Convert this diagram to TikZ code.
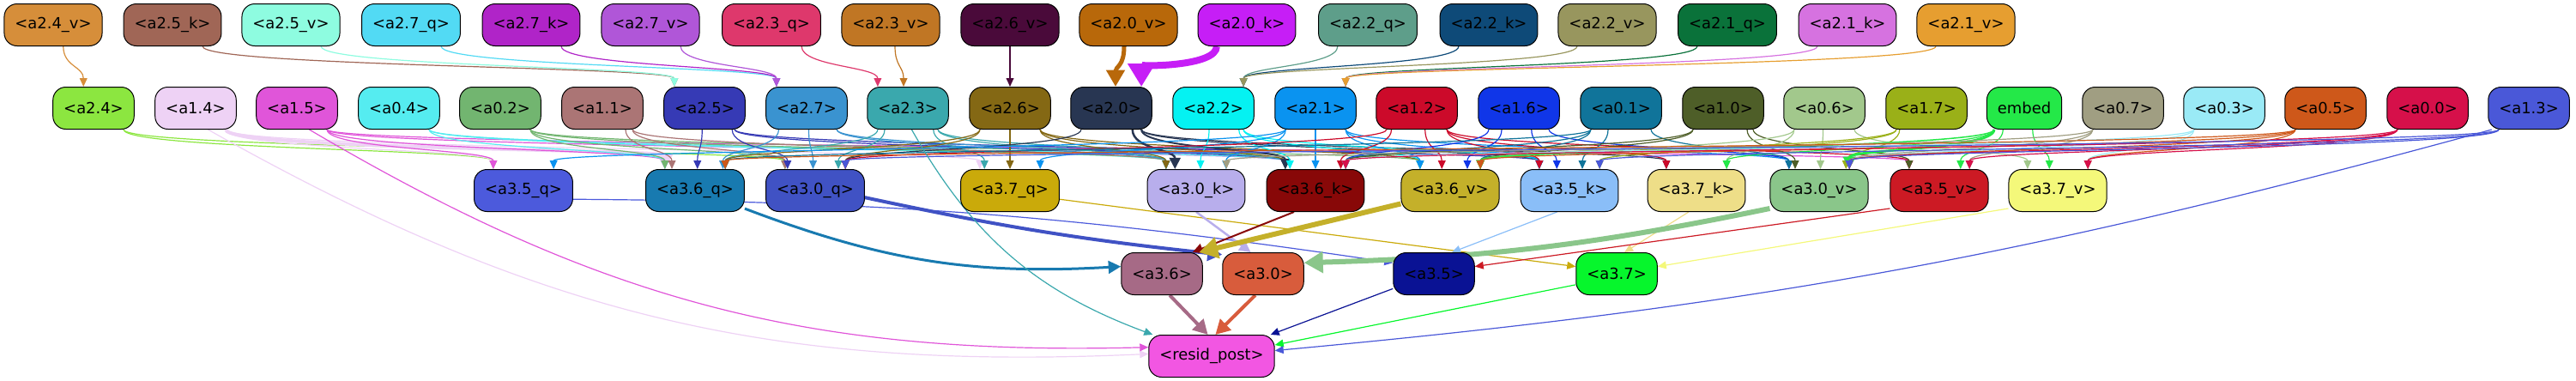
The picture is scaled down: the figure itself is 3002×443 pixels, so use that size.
\documentclass[tikz,border=0pt]{standalone}
\usepackage{fontspec}
\setmainfont{DejaVu Sans}
\usetikzlibrary{arrows.meta,calc,backgrounds}

\definecolor{a24v}{HTML}{D68E3A}\definecolor{a25k}{HTML}{A06656}
\definecolor{a25v}{HTML}{8EFCE0}\definecolor{a27q}{HTML}{52DAF4}
\definecolor{a27k}{HTML}{B024C8}\definecolor{a27v}{HTML}{B056D8}
\definecolor{a23q}{HTML}{DE386C}\definecolor{a23v}{HTML}{C07624}
\definecolor{a26v}{HTML}{4A0A3A}\definecolor{a20v}{HTML}{B8680A}
\definecolor{a20k}{HTML}{C61EF6}\definecolor{a22q}{HTML}{5E9E8A}
\definecolor{a22k}{HTML}{0E4A78}\definecolor{a22v}{HTML}{98965E}
\definecolor{a21q}{HTML}{0A723A}\definecolor{a21k}{HTML}{D672E0}
\definecolor{a21v}{HTML}{E69E30}
\definecolor{a24}{HTML}{8CE640}\definecolor{a14}{HTML}{EED2F5}
\definecolor{a15}{HTML}{E055D9}\definecolor{a04}{HTML}{55ECF0}
\definecolor{a02}{HTML}{72B570}\definecolor{a11}{HTML}{AB7575}
\definecolor{a25}{HTML}{363AB5}\definecolor{a27}{HTML}{3A93D0}
\definecolor{a23}{HTML}{3AA8AD}\definecolor{a26}{HTML}{846814}
\definecolor{a20}{HTML}{283652}\definecolor{a22}{HTML}{05F2F2}
\definecolor{a21}{HTML}{0A93F0}\definecolor{a12}{HTML}{CC0A2A}
\definecolor{a16}{HTML}{1036E8}\definecolor{a01}{HTML}{10749A}
\definecolor{a10}{HTML}{4E5E28}\definecolor{a06}{HTML}{A2C88C}
\definecolor{a17}{HTML}{9AB018}\definecolor{embed}{HTML}{24E848}
\definecolor{a07}{HTML}{A09E82}\definecolor{a03}{HTML}{9AEAF6}
\definecolor{a05}{HTML}{CE581A}\definecolor{a00}{HTML}{D6104A}
\definecolor{a13}{HTML}{4A58D8}
\definecolor{a35q}{HTML}{4C5ADC}\definecolor{a36q}{HTML}{187AB0}
\definecolor{a30q}{HTML}{4052C4}\definecolor{a37q}{HTML}{CAAA0A}
\definecolor{a30k}{HTML}{B8AEEC}\definecolor{a36k}{HTML}{880808}
\definecolor{a36v}{HTML}{C4B02A}\definecolor{a35k}{HTML}{8ABEF8}
\definecolor{a37k}{HTML}{EEDE88}\definecolor{a30v}{HTML}{8AC68A}
\definecolor{a35v}{HTML}{CC1A24}\definecolor{a37v}{HTML}{F4F87A}
\definecolor{a36}{HTML}{A66A86}\definecolor{a30}{HTML}{D85C3C}
\definecolor{a35}{HTML}{0A1294}\definecolor{a37}{HTML}{06F62C}
\definecolor{resid}{HTML}{F256E2}

\begin{document}
\begin{tikzpicture}[x=0.2mm,y=-0.2mm,
  box/.style={draw=black,line width=0.2mm,rounded corners=3mm,minimum height=9.8mm,
    inner xsep=2.5mm,font=\fontsize{10.2}{12}\selectfont},
  wire/.style={line width=#1*0.2mm,-{Triangle[length=1.4mm 2.5,width=1mm 3.2]}}]
\useasboundingbox (0,0) rectangle (3002,443);

\foreach \n/\x/\l in {a24v/62/{<a2.4\_v>},a25k/201/{<a2.5\_k>},a25v/339/{<a2.5\_v>},
  a27q/479/{<a2.7\_q>},a27k/619/{<a2.7\_k>},a27v/758/{<a2.7\_v>},a23q/899/{<a2.3\_q>},
  a23v/1038/{<a2.3\_v>},a26v/1177/{<a2.6\_v>},a20v/1315/{<a2.0\_v>},a20k/1453/{<a2.0\_k>},
  a22q/1594/{<a2.2\_q>},a22k/1735/{<a2.2\_k>},a22v/1873/{<a2.2\_v>},a21q/2013/{<a2.1\_q>},
  a21k/2153/{<a2.1\_k>},a21v/2291/{<a2.1\_v>}}
  \node[box,fill=\n] (\n) at (\x,29) {\l};

\foreach \n/\x/\l in {a24/109/{<a2.4>},a14/228/{<a1.4>},a15/346/{<a1.5>},a04/465/{<a0.4>},
  a02/583/{<a0.2>},a11/702/{<a1.1>},a25/821/{<a2.5>},a27/940/{<a2.7>},a23/1058/{<a2.3>},
  a26/1177/{<a2.6>},a20/1295/{<a2.0>},a22/1414/{<a2.2>},a21/1533/{<a2.1>},a12/1651/{<a1.2>},
  a16/1770/{<a1.6>},a01/1889/{<a0.1>},a10/2008/{<a1.0>},a06/2126/{<a0.6>},a17/2245/{<a1.7>},
  embed/2359/{embed},a07/2474/{<a0.7>},a03/2592/{<a0.3>},a05/2710/{<a0.5>},a00/2829/{<a0.0>},
  a13/2947/{<a1.3>}}
  \node[box,fill=\n] (\n) at (\x,126) {\l};

\foreach \n/\x/\l in {a35q/610/{<a3.5\_q>},a36q/810/{<a3.6\_q>},a30q/950/{<a3.0\_q>},
  a37q/1177/{<a3.7\_q>},a30k/1394/{<a3.0\_k>},a36k/1533/{<a3.6\_k>},a36v/1690/{<a3.6\_v>},
  a35k/1829/{<a3.5\_k>},a37k/1977/{<a3.7\_k>},a30v/2120/{<a3.0\_v>},a35v/2260/{<a3.5\_v>},
  a37v/2398/{<a3.7\_v>}}
  \node[box,fill=\n] (\n) at (\x,222) {\l};

\foreach \n/\x/\l in {a36/1354/{<a3.6>},a30/1472/{<a3.0>},a35/1671/{<a3.5>},a37/1884/{<a3.7>}}
  \node[box,fill=\n] (\n) at (\x,319) {\l};
\node[box,fill=resid] (resid) at (1412,415) {<resid\_post>};

\begin{pgfonlayer}{background}
\foreach \s/\t/\w in {a24v/a24/1.2,a25k/a25/1.2,a25v/a25/1.2,a27q/a27/1.2,a27k/a27/1.2,
  a27v/a27/1.2,a23q/a23/1.2,a23v/a23/1.2,a26v/a26/1.2,a20v/a20/5,a20k/a20/8,a22q/a22/1.2,
  a22k/a22/1.2,a22v/a22/1.2,a21q/a21/1.2,a21k/a21/1.2,a21v/a21/1.2,
  a24/a35q/1.2,a24/a30q/1.2,a14/a35q/1.2,a14/a36q/4,a14/a37q/1.2,
  a15/a35q/1.2,a15/a36q/1.2,a15/a36k/1.2,a15/a35v/1.2,a04/a36q/1.2,a04/a30k/1.2,a04/a36k/1.2,
  a02/a36q/1.2,a02/a30q/1.2,a02/a30k/1.2,a02/a36v/1.2,a11/a36q/1.2,a11/a30q/1.2,a11/a30k/1.2,
  a25/a36q/1.2,a25/a30q/1.2,a25/a36k/1.2,a25/a35k/1.2,a27/a36q/1.2,a27/a30q/1.2,a27/a30k/1.2,
  a27/a36k/1.2,a23/a36q/1.2,a23/a30q/1.2,a23/a37q/1.2,a23/a30k/1.2,a23/a36k/1.2,
  a26/a36q/1.2,a26/a30q/1.2,a26/a37q/1.2,a26/a30k/1.2,a26/a36k/1.2,a26/a36v/1.2,
  a20/a30q/1.2,a20/a30k/2.5,a20/a36k/2,a20/a37k/1.2,a20/a35k/1.2,
  a22/a30k/1.2,a22/a36k/1.2,a22/a36v/1.2,a22/a35k/1.2,
  a21/a35q/1.2,a21/a37q/1.2,a21/a30k/1.2,a21/a36k/1.2,a21/a36v/1.2,a21/a35k/1.2,a21/a30v/1.2,
  a12/a30q/1.2,a12/a36k/1.2,a12/a36v/1.2,a12/a35k/1.2,a12/a37k/1.2,a12/a35v/1.2,
  a16/a36k/1.2,a16/a36v/1.2,a16/a35k/1.2,a16/a30v/1.2,
  a01/a36q/1.2,a01/a36k/1.2,a01/a36v/1.2,a01/a35k/1.2,a01/a30v/1.2,
  a10/a36k/1.2,a10/a36v/1.2,a10/a30v/1.2,a10/a35v/1.2,
  a06/a36v/1.2,a06/a37k/1.2,a06/a30v/1.2,a06/a37v/1.2,a17/a36v/1.2,a17/a35k/1.2,a17/a30v/1.2,
  embed/a36v/1.5,embed/a30v/3,embed/a35v/1.2,embed/a37v/1.2,embed/a37k/1.2,
  a07/a30k/1.2,a07/a30v/1.2,a07/a35v/1.2,a03/a36k/1.2,a03/a30v/1.2,a03/a37v/1.2,
  a05/a36q/1.2,a05/a36v/1.2,a05/a30v/1.2,a05/a37v/1.2,
  a00/a36k/1.2,a00/a30v/1.2,a00/a35v/1.2,a00/a37v/1.2,a13/a30q/1.2,a13/a35k/1.2,a13/a30v/1.2}
  \draw[wire=\w,draw=\s] let \p1=(\s.south), \p2=(\t.north),
    \n1={max(-20,min(20,0.25*(\x2-\x1)))}, \n2={max(-20,min(20,0.25*(\x1-\x2)))},
    \n3={\y1-\y2} in
    ({\x1+\n1*1pt},\y1) .. controls ({\x1+\n1*1pt},{\y1-0.5*\n3*1pt})
    and ({\x2+\n2*1pt},{\y2+0.5*\n3*1pt}) .. ({\x2+\n2*1pt},\y2);

\foreach \s/\a/\t/\b/\w/\o in {a35q/-10/a35/165/1.2/4,a36q/-20/a36/170/3/-12,
  a30q/-8/a30/155/4/-3,a37q/-10/a37/170/1.2/0,a30k/-90/a30/120/2.5/0,
  a36k/-135/a36/35/2/0,a36v/195/a36/30/6/0,a35k/-120/a35/50/1.2/0,a37k/-110/a37/70/1.2/0,
  a30v/200/a30/15/6/5,a35v/200/a35/10/1.2/0,a37v/200/a37/10/1.2/0,
  a36/-70/resid/100/4/0,a30/-110/resid/80/4/0,a35/200/resid/20/1.2/0,a37/195/resid/10/1.2/0,
  a14/-60/resid/178/1.2/-16,a15/-60/resid/172/1.2/-16,a23/-80/resid/160/1.2/-20,
  a13/-150/resid/5/1.2/5}
  \draw[wire=\w,draw=\s] (\s.\a) to[bend left=\o] (\t.\b);
\end{pgfonlayer}
\end{tikzpicture}
\end{document}
